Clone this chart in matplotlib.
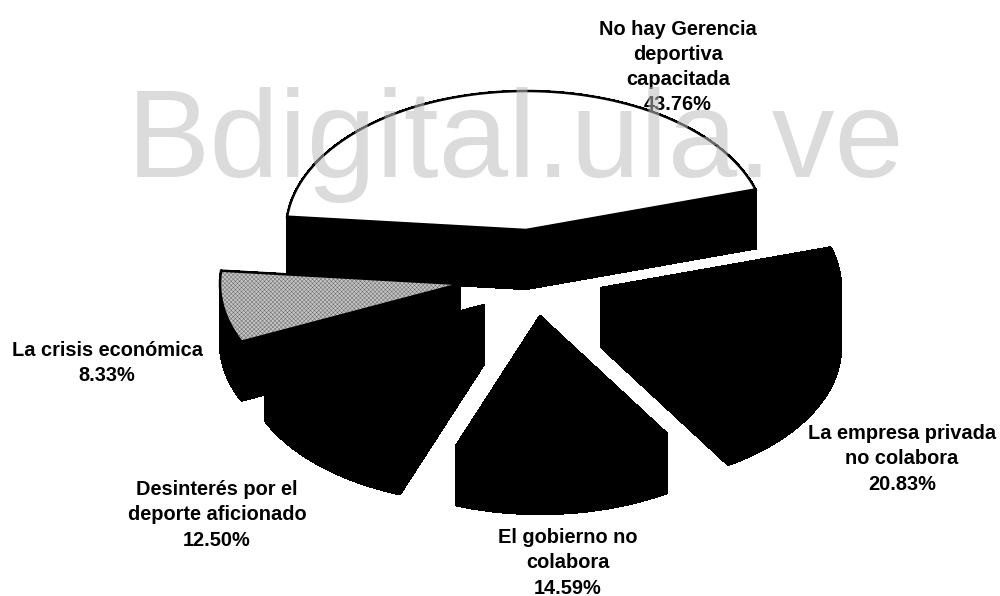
import numpy as np
import matplotlib
matplotlib.use("Agg")
import matplotlib.pyplot as plt
from matplotlib.patches import Polygon

plt.rcParams['font.family'] = ['Liberation Sans', 'DejaVu Sans']
plt.rcParams['hatch.linewidth'] = 0.3

# Survey shares, clockwise from the back slice
categories = ["No hay Gerencia\ndeportiva\ncapacitada",
              "La empresa privada\nno colabora",
              "El gobierno no\ncolabora",
              "Desinterés por el\ndeporte aficionado",
              "La crisis económica"]
values = [43.76, 20.83, 14.59, 12.50, 8.33]

# Projection of the disc onto the page
FIRST_ANGLE = 174.5
RX, RY, DEPTH = 240, 139, 59
centres = [(526, 230), (601, 288), (540, 316), (484, 305), (460, 284)]
top_colours = ["white", "black", "black", "black", "#c4c4c4"]
label_pos = [(678, 67), (902, 459), (568, 563), (217, 515), (107, 363)]
draw_order = [0, 4, 3, 1, 2]

fig = plt.figure(figsize=(10, 5.96), dpi=100)
ax = fig.add_axes([0, 0, 1, 1])
ax.set_xlim(0, 1000)
ax.set_ylim(596, 0)
ax.axis("off")

# Slice boundaries follow from the shares
spans = np.array(values) / sum(values) * 360
ends = FIRST_ANGLE - np.cumsum(spans)
starts = ends + spans


def top_face(i):
    """Apex plus rim points of one slice on the tilted disc."""
    cx, cy = centres[i]
    t = np.radians(np.linspace(starts[i], ends[i], 80))
    rim = np.column_stack([cx + RX * np.cos(t), cy - RY * np.sin(t)])
    return np.vstack([[cx, cy], rim])


for z, i in enumerate(draw_order):
    pts = top_face(i)
    base = 2 + z * 2
    # Side walls: every boundary segment swept down by the disc depth
    closed = np.vstack([pts, pts[:1]])
    for a, b in zip(closed[:-1], closed[1:]):
        quad = [a, b, b + (0, DEPTH), a + (0, DEPTH)]
        ax.add_patch(Polygon(quad, closed=True, fc="black", ec="black", lw=1.0,
                             antialiased=False, zorder=base))
    is_stippled = i == 4
    face = Polygon(pts, closed=True, fc=top_colours[i], ec="#5e5e5e" if is_stippled else "black",
                   lw=1.8 if i == 0 else 0.5, zorder=base + 1,
                   hatch="xxxxxxxx" if is_stippled else None)
    ax.add_patch(face)
    if is_stippled:
        ax.add_patch(Polygon(pts, closed=True, fc="none", ec="black", lw=1.8, zorder=base + 1))

# Outcome labels
for name, v, (x, y) in zip(categories, values, label_pos):
    ax.text(x, y, f"{name}\n{v:.2f}%", ha="center", va="center", fontsize=14.4,
            fontweight="bold", color="black", linespacing=1.42, zorder=20)

# Repository stamp across the upper part of the page
ax.text(516, 177, "Bdigital.ula.ve", ha="center", va="baseline", fontsize=90,
        color="#bdbdbd", alpha=0.54, zorder=30)

fig.savefig("out.png", dpi=100, facecolor="white")
